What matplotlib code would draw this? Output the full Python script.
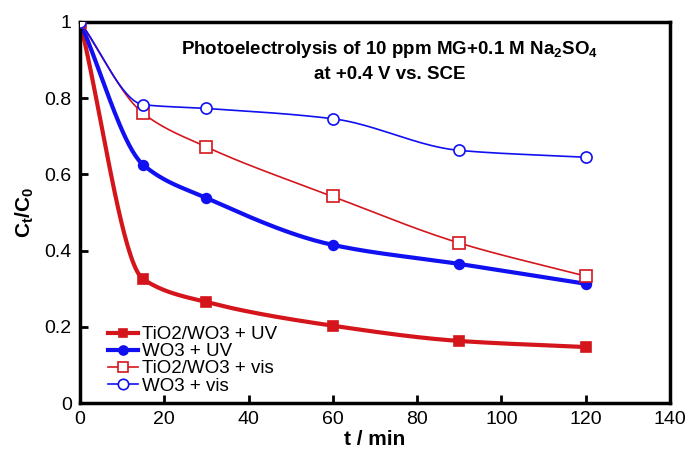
import numpy as np
import matplotlib
matplotlib.use("Agg")
import matplotlib.pyplot as plt
from matplotlib.lines import Line2D

plt.rcParams['font.family'] = ['Liberation Sans', 'DejaVu Sans']

t = [0, 15, 30, 60, 90, 120]
tio2_uv = [1.0, 0.325, 0.265, 0.203, 0.163, 0.147]
wo3_uv = [1.0, 0.625, 0.538, 0.415, 0.365, 0.313]
tio2_vis = [1.0, 0.760, 0.672, 0.542, 0.420, 0.333]
wo3_vis = [1.0, 0.783, 0.773, 0.746, 0.663, 0.645]

labels = ["TiO2/WO3 + UV", "WO3 + UV", "TiO2/WO3 + vis", "WO3 + vis"]
xticks = [0, 20, 40, 60, 80, 100, 120, 140]
yticks = [0, 0.2, 0.4, 0.6, 0.8, 1]
ytick_labels = ["0", "0.2", "0.4", "0.6", "0.8", "1"]

RED = "#d4161c"
BLUE = "#1010f0"


def smooth(x, y, n=40):
    """Monotone cubic Hermite curve through the points, for line rendering."""
    x = np.asarray(x, float)
    y = np.asarray(y, float)
    h = np.diff(x)
    d = np.diff(y) / h
    m = np.zeros_like(y)
    for k in range(1, len(x) - 1):
        if d[k - 1] * d[k] > 0:
            w1 = 2 * h[k] + h[k - 1]
            w2 = h[k] + 2 * h[k - 1]
            m[k] = (w1 + w2) / (w1 / d[k - 1] + w2 / d[k])
    m[0] = d[0]
    m[-1] = d[-1]
    xs, ys = [], []
    for k in range(len(x) - 1):
        s = np.linspace(0, 1, n, endpoint=False)
        h00 = 2 * s ** 3 - 3 * s ** 2 + 1
        h10 = s ** 3 - 2 * s ** 2 + s
        h01 = -2 * s ** 3 + 3 * s ** 2
        h11 = s ** 3 - s ** 2
        xs.append(x[k] + s * h[k])
        ys.append(h00 * y[k] + h10 * h[k] * m[k] + h01 * y[k + 1] + h11 * h[k] * m[k + 1])
    xs.append([x[-1]])
    ys.append([y[-1]])
    return np.concatenate(xs), np.concatenate(ys)


fig = plt.figure(figsize=(6.88, 4.57), dpi=100)
ax = fig.add_axes([0.1163, 0.118, 0.8575, 0.834])

series = [
    (tio2_uv, RED, 's', RED, 3.0, 6.5),
    (wo3_uv, BLUE, 'o', BLUE, 3.0, 7),
    (tio2_vis, RED, 's', 'white', 1.2, 8),
    (wo3_vis, BLUE, 'o', 'white', 1.2, 8),
]
handles = []
for (vals, col, mk, mfc, lw, ms), lab in zip(series, labels):
    sx, sy = smooth(t, vals)
    ax.plot(sx, sy, color=col, lw=lw, zorder=2)
    ax.plot(t, vals, ls='none', marker=mk, ms=ms, mfc=mfc, mec=col,
            mew=1.2, zorder=3)
    handles.append(Line2D([], [], color=col, lw=lw, marker=mk, ms=ms - 0.5,
                          mfc=mfc, mec=col, mew=1.2))

ax.set_xlim(0, 140)
ax.set_ylim(0, 1)
ax.set_xticks(xticks)
ax.set_xticklabels([str(v) for v in xticks])
ax.set_yticks(yticks)
ax.set_yticklabels(ytick_labels)
ax.tick_params(direction='in', length=6, width=2, labelsize=14,
               top=False, right=False, pad=6)
for sp in ax.spines.values():
    sp.set_linewidth(2.5)

ax.set_xlabel("t / min", fontsize=15, fontweight='bold', labelpad=1)
ax.set_ylabel(r"C$_\mathregular{t}$/C$_\mathregular{0}$", fontsize=15,
              fontweight='bold', labelpad=6)

ax.text(0.525, 0.955,
        "Photoelectrolysis of 10 ppm MG+0.1 M Na$_\\mathregular{2}$SO$_\\mathregular{4}$\nat +0.4 V vs. SCE",
        transform=ax.transAxes, ha='center', va='top', fontsize=13.5,
        fontweight='bold', linespacing=1.45)

ax.legend(handles, labels, loc='lower left', bbox_to_anchor=(0.025, -0.012),
          frameon=False, fontsize=13.5, handlelength=1.6, handletextpad=0.2,
          labelspacing=0.0, borderaxespad=0.3)

fig.savefig("out.png", dpi=100)
